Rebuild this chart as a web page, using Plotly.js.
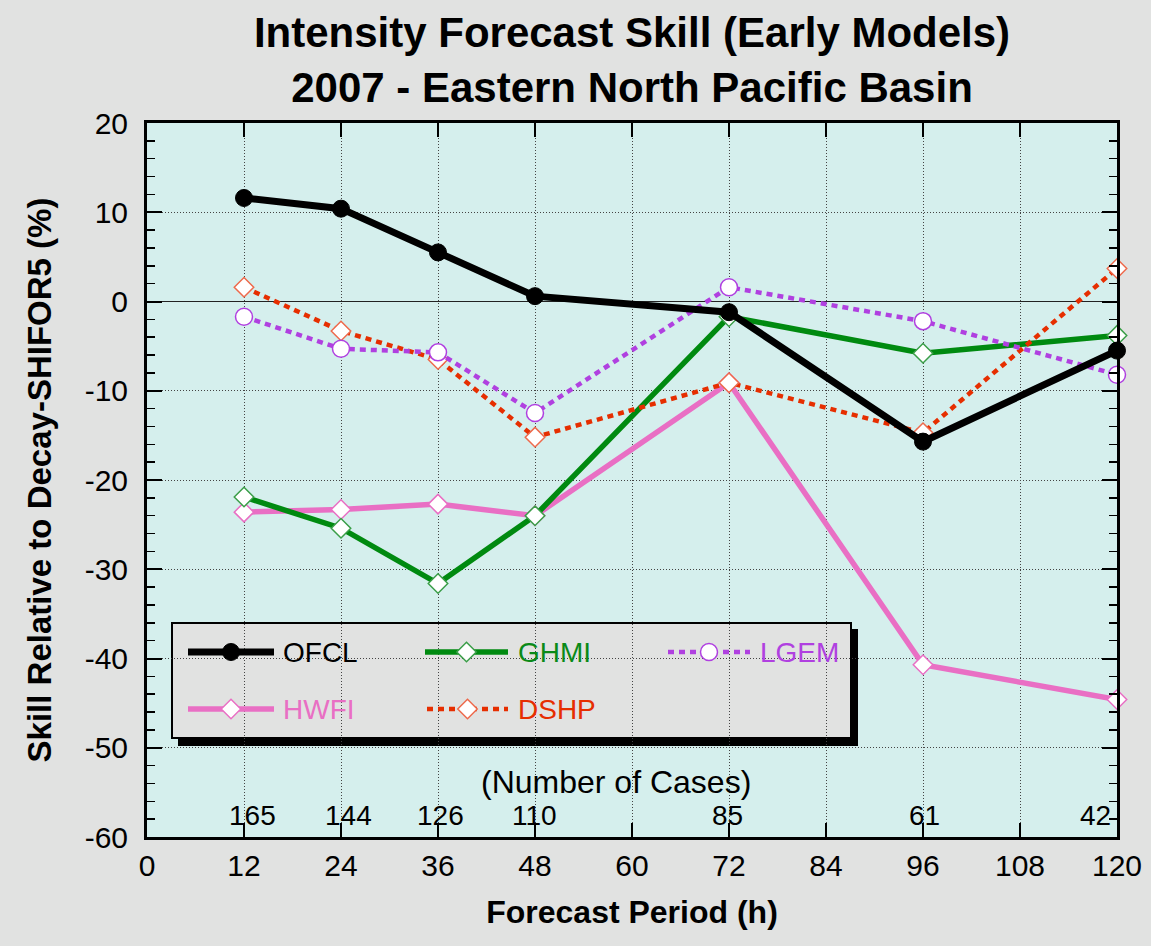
<!DOCTYPE html>
<html>
<head>
<meta charset="utf-8">
<script src="https://cdn.plot.ly/plotly-3.0.1.min.js"></script>
<style>html,body{margin:0;padding:0;background:#e1e2e1;}</style>
</head>
<body>
<div id="chart" style="width:1151px;height:946px;"></div>
<script>
// ---- data ----
const hours = [12, 24, 36, 48, 72, 96, 120];
const ofcl  = [11.6, 10.4, 5.5, 0.6, -1.2, -15.7, -5.5];
const ghmi  = [-21.9, -25.4, -31.6, -24.0, -1.7, -5.8, -3.8];
const lgem  = [-1.7, -5.3, -5.7, -12.5, 1.6, -2.2, -8.2];
const hwfi  = [-23.6, -23.3, -22.7, -24.0, -9.1, -40.7, -44.6];
const dshp  = [1.6, -3.3, -6.5, -15.2, -9.1, -14.7, 3.7];
const cases = [165, 144, 126, 110, 85, 61, 42];
const seriesNames = ['OFCL', 'GHMI', 'LGEM', 'HWFI', 'DSHP'];
const xTicks = [0, 12, 24, 36, 48, 60, 72, 84, 96, 108, 120];
const yTicks = [20, 10, 0, -10, -20, -30, -40, -50, -60];

// ---- styles ----
const FONT = 'Liberation Sans, Arial, Helvetica, sans-serif';
const styles = {
  OFCL: {line: {color: '#000000', width: 7}, marker: {symbol: 'circle', size: 17, color: '#000000', line: {color: '#000000', width: 1}}},
  GHMI: {line: {color: '#008a10', width: 5.5}, marker: {symbol: 'diamond', size: 15, color: '#ffffff', line: {color: '#3a9e48', width: 1.5}}},
  LGEM: {line: {color: '#b040e0', width: 4.5, dash: '6px,5px'}, marker: {symbol: 'circle', size: 17, color: '#ffffff', line: {color: '#b040e0', width: 1.5}}},
  HWFI: {line: {color: '#e96fc4', width: 5.5}, marker: {symbol: 'diamond', size: 15, color: '#ffffff', line: {color: '#e96fc4', width: 1.5}}},
  DSHP: {line: {color: '#e62e00', width: 4.5, dash: '6px,5px'}, marker: {symbol: 'diamond', size: 15, color: '#ffffff', line: {color: '#ee6a4c', width: 1.5}}}
};
const textColors = {OFCL: '#000000', GHMI: '#0a8a18', LGEM: '#b040e0', HWFI: '#e96fc4', DSHP: '#e62e00'};
const values = {OFCL: ofcl, GHMI: ghmi, LGEM: lgem, HWFI: hwfi, DSHP: dshp};
const drawOrder = ['HWFI', 'GHMI', 'DSHP', 'LGEM', 'OFCL'];

const traces = drawOrder.map(n => ({
  type: 'scatter', mode: 'lines+markers', name: n,
  x: hours, y: values[n],
  line: styles[n].line, marker: styles[n].marker,
  showlegend: false, cliponaxis: false
}));

// ---- hand-built legend (plot-area fractions) ----
const PL = 147, PR = 1117, PT = 123, PB = 837;
const fx = px => (px - PL) / (PR - PL);
const fy = py => (PB - py) / (PB - PT);
const legendSlots = {
  OFCL: {x0: 188, x1: 274, xt: 281, y: 652},
  GHMI: {x0: 425, x1: 508, xt: 516, y: 652},
  LGEM: {x0: 668, x1: 750, xt: 758, y: 652},
  HWFI: {x0: 188, x1: 274, xt: 281, y: 709},
  DSHP: {x0: 427, x1: 508, xt: 516, y: 709}
};
const legendAnnotations = [];
seriesNames.forEach(n => {
  const s = legendSlots[n];
  traces.push({type: 'scatter', mode: 'lines', xaxis: 'x2', yaxis: 'y2',
    x: [fx(s.x0), fx(s.x1)], y: [fy(s.y), fy(s.y)], line: styles[n].line,
    showlegend: false, hoverinfo: 'skip'});
  traces.push({type: 'scatter', mode: 'markers', xaxis: 'x2', yaxis: 'y2',
    x: [(fx(s.x0) + fx(s.x1)) / 2], y: [fy(s.y)], marker: styles[n].marker,
    showlegend: false, hoverinfo: 'skip'});
  legendAnnotations.push({xref: 'paper', yref: 'paper', x: fx(s.xt), y: fy(s.y),
    xanchor: 'left', yanchor: 'middle', showarrow: false, text: n,
    font: {family: FONT, size: 28, color: textColors[n]}});
});

const caseShift = [8, 7, 2, -1, -2, 1, -4];
const caseAnnotations = hours.map((h, i) => ({
  xref: 'x', yref: 'y', x: h, y: -57.6, text: String(cases[i]),
  showarrow: false, xanchor: i === hours.length - 1 ? 'right' : 'center',
  xshift: caseShift[i], yanchor: 'middle',
  font: {family: FONT, size: 28, color: '#000'}
}));

const layout = {
  width: 1151, height: 946,
  paper_bgcolor: '#e1e2e1', plot_bgcolor: '#d5efed',
  margin: {l: PL, r: 1151 - PR, t: PT, b: 946 - PB},
  font: {family: FONT, color: '#000'},
  title: {text: '<b>Intensity Forecast Skill (Early Models)<br>2007 - Eastern North Pacific Basin</b>',
    x: 0.5, xref: 'paper', xanchor: 'center', y: 1 - 47 / 946, yref: 'container', yanchor: 'middle',
    font: {family: FONT, size: 42, color: '#000'}},
  xaxis: {
    range: [0, 120], tickvals: xTicks, ticktext: xTicks.map(String),
    ticks: 'inside', ticklen: 14, tickwidth: 2, tickcolor: '#000',
    showline: true, linewidth: 3, linecolor: '#000', mirror: 'allticks',
    showgrid: true, gridcolor: '#444', gridwidth: 1, griddash: '1px,2px',
    zeroline: false, tickfont: {family: FONT, size: 30, color: '#000'},
    ticklabelstandoff: 0,
    title: {text: '<b>Forecast Period (h)</b>', font: {family: FONT, size: 32, color: '#000'}, standoff: 20}
  },
  yaxis: {
    range: [-60, 20], tickvals: yTicks, ticktext: yTicks.map(String),
    ticks: 'inside', ticklen: 15, tickwidth: 2, tickcolor: '#000',
    minor: {dtick: 2, tick0: 0, ticks: 'inside', ticklen: 8, tickwidth: 1.5, tickcolor: '#000', showgrid: false},
    showline: true, linewidth: 3, linecolor: '#000', mirror: 'allticks',
    showgrid: true, gridcolor: '#444', gridwidth: 1, griddash: '1px,2px',
    zeroline: true, zerolinecolor: '#222', zerolinewidth: 1.5,
    tickfont: {family: FONT, size: 30, color: '#000'},
    ticklabelstandoff: 10,
    title: {text: '<b>Skill Relative to Decay-SHIFOR5 (%)</b>', font: {family: FONT, size: 33, color: '#000'}, standoff: 24}
  },
  xaxis2: {overlaying: 'x', anchor: 'y2', range: [0, 1], visible: false, fixedrange: true},
  yaxis2: {overlaying: 'y', anchor: 'x2', range: [0, 1], visible: false, fixedrange: true},
  shapes: [
    {type: 'rect', xref: 'paper', yref: 'paper', layer: 'between',
      x0: fx(178), x1: fx(858), y0: fy(746), y1: fy(629),
      fillcolor: '#000', line: {width: 0}},
    {type: 'rect', xref: 'paper', yref: 'paper', layer: 'between',
      x0: fx(172), x1: fx(851), y0: fy(738), y1: fy(623),
      fillcolor: '#e1e2e1', line: {color: '#000', width: 2}}
  ],
  annotations: [
    {xref: 'x', yref: 'y', x: 60, y: -53.8, text: '(Number of Cases)', showarrow: false,
      xanchor: 'center', yanchor: 'middle', xshift: -16,
      font: {family: FONT, size: 32, color: '#000'}}
  ].concat(caseAnnotations, legendAnnotations)
};

Plotly.newPlot('chart', traces, layout, {staticPlot: true, displayModeBar: false});
</script>
</body>
</html>
